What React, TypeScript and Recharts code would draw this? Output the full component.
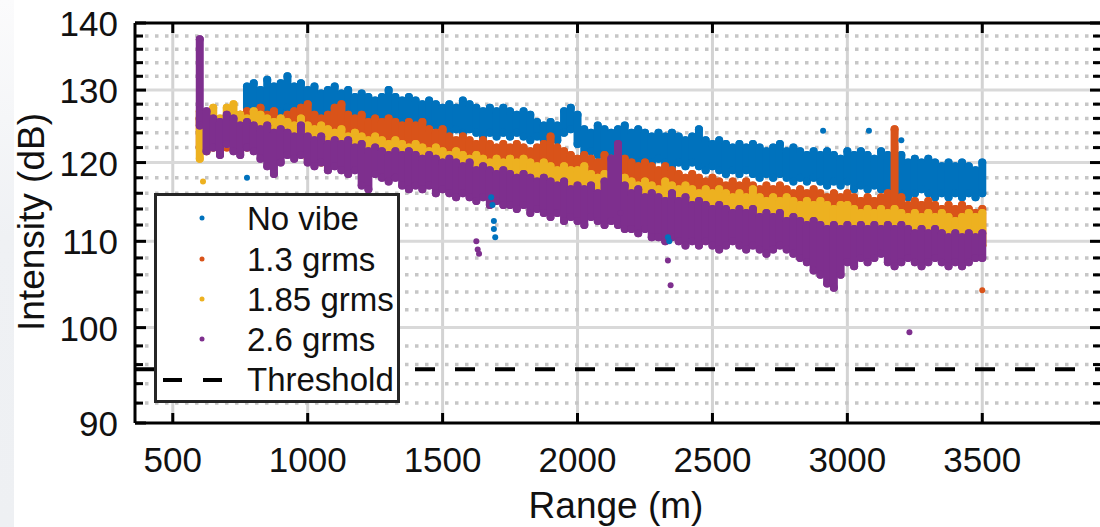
import { CartesianGrid, ErrorBar, ReferenceLine, Scatter, ScatterChart, XAxis, YAxis } from 'recharts'

// range bins (m) shared by every series
const ranges = [
	600, 625, 650, 675, 700, 725, 750, 775,
	800, 825, 850, 875, 900, 925, 950, 975,
	1000, 1025, 1050, 1075, 1100, 1125, 1150, 1175,
	1200, 1225, 1250, 1275, 1300, 1325, 1350, 1375,
	1400, 1425, 1450, 1475, 1500, 1525, 1550, 1575,
	1600, 1625, 1650, 1675, 1700, 1725, 1750, 1775,
	1800, 1825, 1850, 1875, 1900, 1925, 1950, 1975,
	2000, 2025, 2050, 2075, 2100, 2125, 2150, 2175,
	2200, 2225, 2250, 2275, 2300, 2325, 2350, 2375,
	2400, 2425, 2450, 2475, 2500, 2525, 2550, 2575,
	2600, 2625, 2650, 2675, 2700, 2725, 2750, 2775,
	2800, 2825, 2850, 2875, 2900, 2925, 2950, 2975,
	3000, 3025, 3050, 3075, 3100, 3125, 3150, 3175,
	3200, 3225, 3250, 3275, 3300, 3325, 3350, 3375,
	3400, 3425, 3450, 3475, 3500,
]

// upper / lower edge of each point cloud (dB) per range bin
const noVibeHi = [
	null, null, null, null, null, null, null, 130.5,
	131, 130, 131.5, 130.5, 131, 132, 130.5, 131,
	130, 130.5, 129.5, 130, 130.5, 129.5, 130, 129,
	129.5, 129, 128.5, 129, 130, 129, 128.5, 129,
	128.5, 128, 128.5, 128, 127.5, 128, 127.5, 128.5,
	128, 127.5, 127, 127.5, 127, 127.5, 127, 126.5,
	127, 126.5, 125.5, 125, 125.5, 125, 127, 127.5,
	126.5, 124.5, 124, 125, 124.5, 124, 124.5, 125,
	124, 124.5, 124, 123.5, 124, 123.5, 124, 123.5,
	123, 123.5, 124.5, 123, 122.5, 123, 122.5, 122,
	122.5, 122, 122.5, 122, 121.5, 122, 122.5, 121.5,
	122, 121.5, 121, 121.5, 121, 121.5, 121, 120.5,
	121.5, 121, 121.5, 121, 120.5, 121.5, 121, 120.5,
	121, 120, 120.5, 120, 120.5, 120, 119.5, 120,
	119.5, 120, 119.5, 119, 120,
]
const noVibeLo = [
	null, null, null, null, null, null, null, 127.5,
	127, 127.5, 127, 126.5, 127, 127.5, 126.5, 127,
	126.5, 127, 126.5, 126, 126.5, 126, 126.5, 125.5,
	126, 125.5, 125, 125.5, 125.5, 125, 125.5, 125,
	124.5, 125, 124.5, 125, 124.5, 124, 124.5, 124,
	124.5, 124, 123.5, 124, 123.5, 124, 123.5, 124,
	123.5, 123, 123.5, 123, 123.5, 123, 124, 124.5,
	122.5, 121, 121.5, 121, 120.5, 121, 120.5, 121,
	120.5, 120, 120.5, 120, 120.5, 120, 119.5, 120,
	119.5, 120, 119.5, 119, 119.5, 119, 118.5, 119,
	118.5, 119, 118.5, 118, 118.5, 118, 118.5, 118,
	117.5, 118, 117.5, 118, 117.5, 117, 117.5, 117,
	117.5, 116.5, 117, 116.5, 117, 116.5, 116, 116.5,
	116, 115.5, 116, 116.5, 116, 115.5, 116, 115.5,
	116, 115.5, 116, 115.5, 116,
]

const grms13Hi = [
	126, 126.5, 126, 125.5, 126, 125.5, 126.5, 127,
	126.5, 127.5, 126.5, 127, 126, 126.5, 127, 127.5,
	128, 126.5, 126, 126.5, 127.5, 128, 126.5, 126,
	126.5, 125.5, 126, 125.5, 126, 125.5, 125, 125.5,
	125, 125.5, 124.5, 124, 124.5, 123.5, 123, 123.5,
	123, 122.5, 123, 122.5, 122, 122.5, 122, 122.5,
	122, 121.5, 122, 122.5, 123.5, 122, 121.5, 121,
	120.5, 121, 120.5, 120, 121, 120.5, 120, 120.5,
	120, 119.5, 120, 119.5, 119, 119.5, 119, 118.5,
	118, 118.5, 118, 117.5, 118, 117.5, 117, 117.5,
	117, 117.5, 117, 116.5, 117, 116.5, 117, 116.5,
	116, 116.5, 116, 116.5, 116, 115.5, 116, 115.5,
	116, 115.5, 115, 115.5, 115, 115.5, 116, 124.5,
	115.5, 114.5, 115, 114.5, 115, 114.5, 114, 114.5,
	114, 114.5, 114, 113.5, 114,
]
const grms13Lo = [
	122, 122.5, 122, 122.5, 122, 122, 122.5, 122,
	122.5, 122, 122.5, 122, 121.5, 122, 122, 121.5,
	121.5, 121, 121.5, 121, 121, 120.5, 121, 120.5,
	120, 120.5, 120, 119.5, 120, 119.5, 119, 119.5,
	119, 118.5, 119, 118.5, 118, 118.5, 118, 117.5,
	118, 117.5, 117, 117.5, 117, 116.5, 117, 116.5,
	116, 116.5, 116, 115.5, 116, 115.5, 115, 115.5,
	115, 114.5, 115, 114.5, 114, 114.5, 114, 113.5,
	114, 113.5, 113, 113.5, 113, 112.5, 113, 112.5,
	112, 112.5, 112, 111.5, 112, 111.5, 111, 111.5,
	111, 111.5, 111, 110.5, 111, 110.5, 111, 110.5,
	110, 110.5, 110, 110.5, 110, 110.5, 110, 109.5,
	110, 110, 109.5, 110, 109.5, 110, 109.5, 110,
	110, 109.5, 110, 109.5, 110, 109.5, 109, 109.5,
	109, 109.5, 109, 109.5, 109.5,
]

const grms185Hi = [
	127, 126.5, 127.5, 126, 127.5, 128, 126.5, 126,
	127, 126.5, 126, 125.5, 126, 125.5, 125, 126,
	125, 124.5, 125, 124.5, 124, 124.5, 123.5, 124,
	123.5, 123, 123.5, 123, 122.5, 123, 122.5, 122,
	122.5, 122, 121.5, 122, 121.5, 121, 121.5, 121,
	120.5, 121, 120.5, 120, 120.5, 120, 120.5, 120,
	120.5, 120, 119.5, 120, 119.5, 119, 119.5, 119,
	119, 119.5, 118.5, 118, 118.5, 118, 117.5, 118,
	117.5, 117, 117.5, 117, 116.5, 117.5, 117, 116.5,
	117, 116.5, 116, 116.5, 116, 116.5, 116, 115.5,
	116, 115.5, 116.5, 115.5, 115, 115.5, 115, 115.5,
	115, 114.5, 115, 114.5, 115, 114.5, 114, 114.5,
	114.5, 114, 113.5, 114, 113.5, 114, 113.5, 114,
	113.5, 113, 113.5, 113, 113.5, 113, 113.5, 113,
	112.5, 113, 113.5, 113, 113.5,
]
const grms185Lo = [
	120.5, 121.5, 122.5, 122, 122.5, 122.5, 122, 122.5,
	122, 121.5, 122, 121.5, 121, 121.5, 121, 121.5,
	120.5, 120.5, 120, 120.5, 120, 119.5, 120, 119.5,
	119, 119.5, 119, 118.5, 119, 118.5, 118, 118.5,
	118, 117.5, 118, 117.5, 117, 117.5, 117, 116.5,
	117, 116.5, 116, 116.5, 116, 115.5, 116, 115.5,
	115, 115.5, 115, 114.5, 115, 114.5, 114, 114.5,
	114, 113.5, 114, 113.5, 113, 113.5, 113, 112.5,
	113, 112.5, 112, 112.5, 112, 111.5, 112, 111.5,
	112, 111.5, 111, 111.5, 111, 111.5, 111, 110.5,
	111, 110.5, 111, 110.5, 110, 110.5, 110, 110.5,
	110, 109.5, 110, 109.5, 110, 109.5, 109, 109.5,
	110, 109.5, 110, 109.5, 109, 109.5, 110, 109.5,
	109, 109.5, 109, 109.5, 110, 109.5, 109, 109.5,
	109, 109.5, 109.5, 109, 109.5,
]

const grms26Hi = [
	137.5, 127, 126, 125.5, 126.5, 126, 125, 125.5,
	125, 124.5, 125, 124, 124.5, 124, 123.5, 125,
	123.5, 123, 123.5, 122.5, 123, 122.5, 123, 122,
	122.5, 121.5, 122, 121.5, 121, 121.5, 121, 121.5,
	121, 120.5, 121, 120.5, 120, 120.5, 120, 119.5,
	120, 119, 119.5, 119, 118.5, 119, 118.5, 118,
	118.5, 118, 117.5, 118, 117.5, 117, 117.5, 116.5,
	117, 116.5, 117, 116, 117.5, 120.5, 122.5, 117,
	116, 116.5, 115.5, 116, 115.5, 115, 116, 115,
	115.5, 114.5, 115, 114.5, 114, 114.5, 114, 113.5,
	114, 113.5, 114, 113, 113.5, 113, 113.5, 112.5,
	113, 112.5, 112, 112.5, 112, 111.5, 112, 111.5,
	112, 111.5, 112, 111.5, 112, 111.5, 112, 111.5,
	112, 111.5, 111, 111.5, 111, 111.5, 111, 110.5,
	111, 110.5, 111, 110.5, 111,
]
const grms26Lo = [
	125, 121.5, 122, 121, 122.5, 121.5, 121, 122,
	121.5, 120.5, 119.5, 118.5, 120, 121, 120.5, 121,
	120, 119.5, 120, 119, 119.5, 119, 118.5, 119,
	117, 116.5, 118.5, 118, 117.5, 118, 117, 116.5,
	117, 116.5, 117, 116, 116.5, 116, 115.5, 116,
	115.5, 115, 115.5, 114.5, 115, 114.5, 114.5, 114,
	114.5, 113.5, 114, 113.5, 113, 113.5, 112.5, 113,
	112.5, 112, 113, 112.5, 112, 112.5, 112, 111.5,
	111.5, 111, 111.5, 110.5, 110.5, 110, 110.5, 110,
	109.5, 110, 109.5, 110, 109.5, 109, 109.5, 110,
	109.5, 109, 109.5, 109, 108.5, 109, 109.5, 109,
	108.5, 108, 107.5, 106.5, 106, 105, 104.5, 106,
	107.5, 107, 108, 107.5, 108, 108.5, 107.5, 107,
	107.5, 108, 107.5, 107, 107.5, 108, 107.5, 107,
	107.5, 107, 107.5, 108, 108,
]

// stray single points [range, dB]
const noVibeStray = [
	[775, 118], [1680, 115.5], [1685, 114.5], [1690, 112.5], [1690, 111.5],
	[1695, 110.5], [2335, 110.5], [2340, 110], [2910, 124.3], [3080, 124.3], [3200, 123],
]
const grms13Stray = [[3500, 104.2]]
const grms185Stray = [[612, 117.5]]
const grms26Stray = [
	[1625, 110], [1630, 109], [1635, 108.5], [2335, 107.7], [2345, 104.8],
	[2160, 113.5], [3230, 99.5],
]

const xTicks = [500, 1000, 1500, 2000, 2500, 3000, 3500]
const yTicks = [
	90, 92, 94, 96, 98, 100, 102, 104, 106, 108, 110, 112, 114, 116, 118, 120,
	122, 124, 126, 128, 130, 132, 134, 136, 138, 140,
]
const yMajor = [100, 110, 120, 130]
const yMinor = [
	92, 94, 96, 98, 102, 104, 106, 108, 112, 114, 116, 118,
	122, 124, 126, 128, 132, 134, 136, 138,
]
const threshold = 95.5

const FONT = '"Liberation Sans", Arial, Helvetica, sans-serif'
const PLOT_TOP = 23
const PLOT_RIGHT = 1101

const series = [
	{ name: 'No vibe', color: '#0072BD', hi: noVibeHi, lo: noVibeLo, stray: noVibeStray },
	{ name: '1.3 grms', color: '#D95319', hi: grms13Hi, lo: grms13Lo, stray: grms13Stray },
	{ name: '1.85 grms', color: '#EDB120', hi: grms185Hi, lo: grms185Lo, stray: grms185Stray },
	{ name: '2.6 grms', color: '#7E2F8E', hi: grms26Hi, lo: grms26Lo, stray: grms26Stray },
]

type Pt = { range: number; value: number; spread?: [number, number]; stray?: boolean }

function buildPoints(hi: (number | null)[], lo: (number | null)[], stray: number[][]) {
	const pts: Pt[] = []
	ranges.forEach((r, i) => {
		const h = hi[i]
		const l = lo[i]
		if (h == null || l == null) return
		pts.push({ range: r, value: l, spread: [0, h - l] })
	})
	stray.forEach(([r, v]) => pts.push({ range: r, value: v, stray: true }))
	return pts
}

const XTick = ({ x, y, payload }: any) => (
	<g>
		<line x1={x} x2={x} y1={y} y2={y - 10} stroke="#000" strokeWidth={3} />
		<line x1={x} x2={x} y1={PLOT_TOP} y2={PLOT_TOP + 10} stroke="#000" strokeWidth={3} />
		<text x={x} y={y + 49} textAnchor="middle" fontSize={35} fontFamily={FONT} fill="#111">
			{payload.value}
		</text>
	</g>
)

const YTick = ({ x, y, payload }: any) => {
	const major = payload.value % 10 === 0
	const len = major ? 11 : 8
	return (
		<g>
			<line x1={x} x2={x + len} y1={y} y2={y} stroke="#000" strokeWidth={3} />
			<line x1={PLOT_RIGHT} x2={PLOT_RIGHT - len} y1={y} y2={y} stroke="#000" strokeWidth={3} />
			{major && (
				<text x={118} y={y + 13} textAnchor="end" fontSize={35} fontFamily={FONT} fill="#111">
					{payload.value}
				</text>
			)}
		</g>
	)
}

export default function App() {
	const rows = [230, 271, 311, 351]

	return (
		<div
			style={{
				position: 'absolute',
				left: 0,
				top: 0,
				width: 1100,
				height: 527,
				overflow: 'hidden',
				background: '#fff',
			}}
		>
			<div
				style={{
					position: 'absolute',
					left: 0,
					top: 0,
					width: 14,
					height: 527,
					background: 'linear-gradient(to bottom, #fbfbfc 0%, #eff1f4 45%, #eef0f3 100%)',
				}}
			/>
			<ScatterChart width={1104} height={527} margin={{ top: PLOT_TOP, right: 3, bottom: 0, left: 0 }}>
				<CartesianGrid horizontal={false} verticalValues={xTicks} stroke="#d3d3d3" strokeWidth={3} />
				<CartesianGrid
					vertical={false}
					horizontalValues={yMinor}
					stroke="#c6c6c6"
					strokeWidth={3.5}
					strokeDasharray="3.5 6.5"
				/>
				<CartesianGrid vertical={false} horizontalValues={yMajor} stroke="#d9d9d9" strokeWidth={3} />
				<XAxis
					dataKey="range"
					type="number"
					domain={[360, 3940]}
					allowDataOverflow
					ticks={xTicks}
					interval={0}
					tickLine={false}
					tickSize={0}
					tickMargin={0}
					axisLine={{ stroke: '#000', strokeWidth: 3 }}
					tick={<XTick />}
					height={104}
				/>
				<YAxis
					dataKey="value"
					type="number"
					scale="log"
					domain={[90, 140]}
					allowDataOverflow
					ticks={yTicks}
					interval={0}
					tickLine={false}
					tickSize={0}
					tickMargin={0}
					axisLine={{ stroke: '#000', strokeWidth: 3 }}
					tick={<YTick />}
					width={135}
				/>
				{series.map((s) => (
					<Scatter
						key={s.name}
						name={s.name}
						data={buildPoints(s.hi, s.lo, s.stray)}
						fill={s.color}
						isAnimationActive={false}
						shape={(p: any) =>
							p.payload && p.payload.stray ? (
								<circle cx={p.cx} cy={p.cy} r={3} fill={s.color} />
							) : (
								<g />
							)
						}
					>
						<ErrorBar
							dataKey="spread"
							direction="y"
							width={0}
							stroke={s.color}
							strokeWidth={8}
							strokeLinecap="round"
							isAnimationActive={false}
						/>
					</Scatter>
				))}
				<ReferenceLine y={140} stroke="#000" strokeWidth={3} />
				<ReferenceLine y={threshold} stroke="#000" strokeWidth={4} strokeDasharray="20 20" />
			</ScatterChart>
			<svg
				width={1100}
				height={527}
				style={{ position: 'absolute', left: 0, top: 0, pointerEvents: 'none' }}
				fontFamily={FONT}
			>
				<text x={616} y={518} textAnchor="middle" fontSize={37} fill="#111">
					Range (m)
				</text>
				<text transform="translate(44, 222) rotate(-90)" textAnchor="middle" fontSize={37} fill="#111">
					Intensity (dB)
				</text>
				<rect x={155.5} y={194.5} width={243} height={207} fill="#fff" stroke="#262626" strokeWidth={3} />
				{series.map((s, i) => (
					<g key={s.name}>
						<circle cx={202} cy={rows[i] - 12} r={2.5} fill={s.color} />
						<text x={247} y={rows[i]} fontSize={33} fill="#111">
							{s.name}
						</text>
					</g>
				))}
				<line x1={163} x2={223} y1={380} y2={380} stroke="#000" strokeWidth={4} strokeDasharray="19 21" />
				<text x={247} y={391} fontSize={33} fill="#111">
					Threshold
				</text>
			</svg>
		</div>
	)
}
